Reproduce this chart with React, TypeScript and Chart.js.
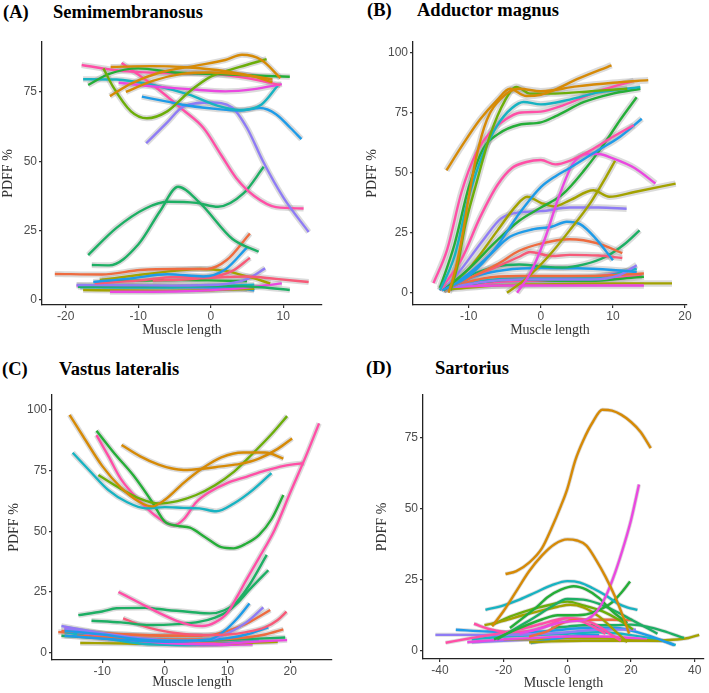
import React, { useEffect, useRef } from 'react';
import { Chart, registerables } from 'chart.js';

Chart.register(...registerables);

// ---------- colours of the participant groups ----------
const PALETTE: Record<string, string> = {
  orange: '#D68A06',
  red: '#EE6B3F',
  olive: '#A3A200',
  lgreen: '#6CAE0A',
  green: '#25AE38',
  sgreen: '#1DAF64',
  teal: '#17B3C2',
  blue: '#1E9BE8',
  purple: '#8F7CF5',
  magenta: '#EA48E0',
  pink: '#FF4FA6',
  rose: '#F75A78',
};

type Series = [string, number[], number[]];

// ---------- (A) Semimembranosus ----------
const semiXTicks = [-20, -10, 0, 10];
const semiYTicks = [0, 25, 50, 75];
const semiSeries: Series[] = [
  ['orange', [-13.8, -8, -3, 2, 6, 8.5], [84, 84.3, 83.8, 82.5, 80.5, 78.5]],
  ['orange', [-13.9, -11, -7, -2, 2, 4.3, 7, 9.6], [73.5, 78, 82, 84.5, 86.5, 88.4, 86.5, 80]],
  ['orange', [-11.7, -8, -4, 0, 5, 8.5], [75, 79, 81.5, 82, 81, 79.5]],
  ['lgreen', [-14.8, -13.5, -11, -8.8, -6, -3, 0, 4, 7.7], [83.5, 77, 68, 65.5, 68, 75, 80.5, 84, 86.8]],
  ['green', [-16.9, -14, -10, -5, 0, 5, 10.9], [77.5, 81.5, 83.5, 82, 81.5, 81, 80.5]],
  ['pink', [-17.8, -12, -6, 0, 5, 9.6], [84.7, 82.5, 81.8, 81.5, 80, 77.5]],
  ['magenta', [-12.7, -8, -3, 2, 6, 9.8], [78.3, 77, 76, 75.2, 76, 77.8]],
  ['teal', [-17.6, -13, -8, -3, 1, 4, 7, 9.3], [79.6, 79.5, 77.5, 74, 70, 68.5, 70.5, 77.5]],
  ['blue', [-9.5, -6, -3, 1, 4, 6.8, 9, 11, 12.5], [73.3, 71.5, 70, 68.8, 68.3, 69.2, 67, 62, 58]],
  ['purple', [-8.9, -6, -3.8, 0, 2.9, 5, 7.2, 10, 13.5], [56.5, 64, 69.7, 71.2, 69.5, 62, 50, 37, 24.5]],
  ['pink', [-12.3, -8, -3.8, -1, 1.5, 3.5, 6, 9, 12.8], [85.4, 77.5, 68.5, 62, 52, 44, 37.5, 33.5, 33]],
  ['sgreen', [-16.9, -13, -9, -6, -2, 1, 4.5, 7.3], [16.2, 26, 33, 35.4, 35, 33.6, 38.4, 48]],
  ['sgreen', [-16.4, -14, -10, -7, -4.5, -1.5, 3, 6.6], [12.6, 12.5, 20, 32, 40.8, 35, 22, 17.4]],
  ['red', [-21.5, -15, -9.7, -5, -0.5, 2.2, 5.4], [9.4, 9.2, 10.8, 11.2, 11.2, 14.4, 24]],
  ['blue', [-16.2, -11, -6, -1, 2, 5], [6.5, 7.8, 9.3, 8.5, 11, 19]],
  ['rose', [-16, -10, -5, 0, 3, 5.4], [6, 7, 8.3, 8.5, 10.5, 15.2]],
  ['rose', [-8, -3, 2, 5, 9, 13.5], [7, 7.5, 8.3, 8.5, 7.6, 6.5]],
  ['olive', [-15.3, -10, -5, -1.5, 2, 5, 8.2], [7.2, 9, 10.5, 11.2, 10.5, 8.5, 6]],
  ['purple', [-18.5, -12, -5, 1, 5, 7.5], [5.4, 5.3, 5.2, 5.5, 7.5, 11.4]],
  ['sgreen', [-18.3, -12, -5, 2, 7, 10.9], [4.8, 4.9, 5, 5, 4.6, 3.6]],
  ['magenta', [-13.9, -8, -2, 4, 9.8], [3, 3, 3.3, 4.2, 6]],
  ['olive', [-17.6, -12, -6, 0, 6], [3.6, 3.4, 3.3, 3.5, 4]],
  ['green', [-15, -10, -4, 1, 5], [7, 7, 7.2, 7, 6.8]],
  ['teal', [-18, -12, -6, 0, 6], [4.6, 4.5, 4.5, 5, 5.5]],
  ['blue', [-15, -8, -2, 3, 6], [5, 4.8, 4.6, 4.5, 3.5]],
  ['magenta', [-18.5, -12, -6, 0, 5], [5.2, 5, 4.8, 4.5, 4]],
];

// ---------- (B) Adductor magnus ----------
const addXTicks = [-10, 0, 10, 20];
const addYTicks = [0, 25, 50, 75, 100];
const addSeries: Series[] = [
  ['orange', [-13.1, -11, -8.5, -6, -4.3, -2, 0, 1.5, 5, 9.8], [51, 61, 72, 80.5, 85, 82, 82.5, 84, 89, 94.8]],
  ['orange', [-12.8, -12, -11, -10, -9, -7.5, -5.5, -3, 0, 5, 10, 14.9], [0, 8, 22, 40, 56, 72, 81, 85, 84, 86, 87.5, 88.6]],
  ['lgreen', [-12.5, -11.5, -10.5, -9, -7, -5, -3.4, -1.5, 2, 7, 12], [1, 12, 28, 45, 66, 80, 85.8, 83, 83, 84, 85]],
  ['teal', [-14, -12, -10, -8, -6, -4, -2.4, 0, 4, 8, 13.8], [1, 15, 40, 58, 70, 77, 79.5, 78.5, 80.5, 83.5, 85.7]],
  ['pink', [-14.9, -13, -11, -9, -7, -5, -3, 0, 3, 8, 12.9], [4, 18, 42, 58, 67, 72, 75, 75.5, 78, 84, 88.3]],
  ['green', [-14, -12, -10, -8, -6, -3, 0, 2, 6, 10, 13.8], [2, 20, 44, 60, 66, 70, 71, 73.5, 79.5, 83, 85]],
  ['pink', [-14, -11, -8.5, -6, -4, -2, 0, 2, 4, 7, 10, 12.9], [1, 14, 31, 45, 52, 54.5, 55.3, 53.5, 55, 59.5, 65, 69.8]],
  ['blue', [-13.7, -10, -6.2, -3, 0, 2, 4, 8, 11, 14], [1, 7, 19, 33, 44, 48.5, 52, 59.5, 65, 72.5]],
  ['magenta', [-3.3, -1.5, 0.5, 2.5, 4.5, 6.5, 8, 10, 13, 15.9], [0, 8, 22, 40, 54, 57.8, 57.8, 56, 52, 45.5]],
  ['green', [-13.5, -10, -6, -3, 0, 3, 6, 9, 11, 13.3], [1, 10, 22, 30, 35.5, 41, 51, 63, 72, 81.5]],
  ['olive', [-13.5, -10, -6, -3.5, -1.9, 0, 1.8, 4, 7.3, 9.5, 13, 18.7], [1, 10, 26, 36, 40, 37.5, 36, 38.5, 42.7, 40, 42, 45.5]],
  ['olive', [-4.7, -2, 1, 4, 7, 9, 10.3], [0, 6, 15, 26, 38, 48, 55]],
  ['purple', [-13.5, -11, -8, -5.5, -3, 0, 4, 8, 11.9], [1, 10, 22, 31, 33.5, 34, 35.5, 35.5, 35]],
  ['blue', [-13.5, -10, -7, -4.3, -1, 1.5, 3.6, 5.5, 7.5, 10], [1, 8, 16, 23.3, 26.5, 27.5, 29.6, 28.5, 23, 13.6]],
  ['red', [-13.5, -10, -6, -3, 0, 4, 8, 11.3], [1, 6, 12, 17.5, 20.5, 22.3, 20.5, 16.5]],
  ['rose', [-13.5, -10, -6, -3, -1.5, 1.5, 4, 8, 11.3], [1, 6, 11, 15, 17, 15.3, 15.8, 15.5, 14.5]],
  ['sgreen', [-13.5, -10, -6, -3, 0, 3, 6, 9, 11.5, 13.7], [1, 7, 11, 11.8, 11, 10.5, 11.8, 15, 20, 26]],
  ['blue', [-13, -9, -5, 0, 5, 10, 13.3], [1.5, 7, 9.5, 10.3, 10.2, 9.5, 8.7]],
  ['purple', [-13, -8, -3, 2, 7, 11, 13.3], [2, 4.5, 5.5, 5.5, 5.5, 7.5, 11.5]],
  ['magenta', [-12, -6, 0, 6, 14.3], [2.5, 3, 3, 3, 3]],
  ['olive', [-12.5, -6, 0, 6, 12, 18.2], [1.5, 3, 3.5, 3.8, 3.9, 3.9]],
  ['green', [-13, -8, -3, 2, 7, 11, 14.3], [1.5, 4.5, 5.5, 5, 5, 5.8, 6.7]],
  ['red', [-13, -8, -3, 2, 7, 11, 14.3], [2, 6, 7, 7, 7, 7.5, 8]],
  ['teal', [-13, -8, -3, 2, 7, 13.3], [2, 5, 6, 6, 6.2, 10]],
  ['pink', [-14, -8, -3, 2, 7, 14], [2, 4, 5, 5, 5.5, 7]],
  ['magenta', [-13, -8, -3, 2, 7, 12], [2, 4, 5.5, 6, 6.5, 9]],
];

// ---------- (C) Vastus lateralis ----------
const vastXTicks = [-10, 0, 10, 20];
const vastYTicks = [0, 25, 50, 75, 100];
const vastSeries: Series[] = [
  ['orange', [-15.2, -13, -10, -7, -4, -2, 0, 3, 6, 9, 12.5, 16, 18.9], [98, 89, 77, 68, 62, 60.3, 63, 70, 76, 80.5, 82.5, 82.5, 80]],
  ['orange', [-6.9, -4, -1, 1, 3, 6, 9, 12, 15, 18, 20.3], [85.6, 81, 77.5, 76, 75.3, 75.8, 76.8, 77.8, 80, 84, 88.3]],
  ['teal', [-14.7, -12, -9, -6, -3, 0, 3, 5.5, 8.2, 11, 14, 17], [82.4, 75, 67, 62, 59.5, 60, 59.7, 59.5, 58.3, 61.5, 67, 74]],
  ['lgreen', [-10.6, -7, -4, -1, 2, 5, 8, 11, 14, 17, 19.5], [73.2, 67.5, 63.5, 61.5, 62.5, 65, 69, 74.5, 82, 90, 97.5]],
  ['green', [-10.9, -8, -5, -2, 0, 2, 4, 6.5, 9, 11, 13, 15, 17, 18.9], [91.5, 82, 73, 62, 54, 52.3, 51.5, 47.5, 43.5, 43, 45, 48.5, 55, 65]],
  ['pink', [-10.9, -9, -7, -4, -1, 1.5, 3, 5, 7, 10, 13, 16, 19, 22.2], [89.7, 81, 71.5, 62.5, 55.5, 52.5, 55, 62, 66, 70, 72.5, 75, 77, 78.2]],
  ['pink', [-7.4, -4, -1, 2, 4, 6, 8, 10, 11.5, 13, 15, 17.5, 20, 22.5, 24.6], [25, 20.5, 16.5, 13, 11.5, 11, 12.5, 16.5, 23, 30, 39, 50.6, 66, 81, 94.5]],
  ['sgreen', [-13.8, -10, -7.7, -3, 0.3, 4, 7.2, 9.5, 11.5, 13.5, 16.25], [15.5, 17, 18.3, 18.5, 17.6, 16.8, 16.2, 17.5, 21, 28, 40.3]],
  ['sgreen', [-11.7, -7, -2.4, 2, 5.6, 8, 10, 11.5, 13.5, 16.5], [13.2, 12.5, 11.4, 11.8, 12.8, 14.5, 17, 20.3, 26, 34]],
  ['rose', [-6.65, -4, -1, 3, 7, 10, 13, 16, 18, 19.4], [14.2, 11.5, 9.3, 7.7, 7.3, 7.5, 8.5, 10.5, 13.5, 16.9]],
  ['blue', [-16, -10, -4, 2, 7.2, 9.5, 11.5, 13.5], [9, 7.5, 5.5, 5, 5.5, 9, 14, 20.3]],
  ['purple', [-16, -10, -4, 2, 7, 10, 13, 15.7], [10, 8, 6, 5, 5.5, 8, 12.5, 18.7]],
  ['red', [-16.5, -10, -4, 2, 7, 10, 13, 16.8], [9, 8, 7.3, 7, 7.2, 9, 12, 17.6]],
  ['blue', [-16, -8, 0, 6, 10, 13, 16.5], [7, 5.5, 4.5, 5, 6, 7.5, 10.5]],
  ['red', [-14, -6, 2, 8, 12, 16, 18.9], [7, 6, 5.5, 5.5, 6, 7.5, 9.6]],
  ['sgreen', [-16.5, -10, -3, 5, 12, 19.2], [7, 6, 5.5, 5, 5.5, 6.3]],
  ['magenta', [-15, -8, 0, 8, 14, 19.5], [9, 6, 4, 3.5, 4.5, 5.2]],
  ['teal', [-16, -10, -4, 2, 8, 15], [8.5, 6, 3.8, 3.2, 3.5, 5]],
  ['olive', [-13.5, -6, 0, 6, 12, 18], [4, 3.8, 3.6, 3.6, 4, 4.5]],
  ['magenta', [-16, -10, -4, 2, 8, 14], [10, 7.5, 5, 3.5, 3.2, 3.5]],
  ['pink', [-15, -9, -3, 3, 9, 14], [9.5, 7, 5, 4, 4, 5]],
  ['purple', [-16.5, -10, -4, 2, 8], [11, 8, 5.5, 4.5, 4.5]],
  ['red', [-17, -12, -6, 0, 6], [8.5, 8, 7.5, 7, 7]],
];

// ---------- (D) Sartorius ----------
const sartXTicks = [-40, -20, 0, 20, 40];
const sartYTicks = [0, 25, 50, 75];
const sartSeries: Series[] = [
  ['orange', [-19.4, -16, -12, -8, -5, -2, 0, 2.5, 5, 8, 11, 14, 17, 20, 23, 26.2], [27, 28, 31, 36, 43, 51, 57, 67, 74, 80.5, 84.8, 84.5, 83, 80.5, 77, 71.3]],
  ['orange', [-23.6, -20, -16, -12, -8, -4, 0, 3, 6, 9, 12, 15, 17.5, 19.4], [8.6, 14, 21, 28, 33.5, 37.5, 39.2, 38.8, 37, 32, 26, 19, 12, 6]],
  ['magenta', [-15, -8, -2, 3, 6, 9, 12, 15, 18, 20, 22.5], [6, 8, 10, 10.5, 11, 13.5, 19, 27.5, 38, 46, 58.5]],
  ['teal', [-25.7, -20, -15, -10, -5, 0, 4, 8, 12, 16, 19, 22], [14.4, 16, 18, 20.5, 23, 24.5, 24, 22, 19.5, 16.5, 15.2, 14.4]],
  ['green', [-23, -15, -8, -3, 2, 6, 10, 14, 17, 19.7], [4, 8, 11, 12.5, 12.5, 12.8, 14.4, 17, 20.5, 24.4]],
  ['green', [-18, -14, -10, -6, -2, 2, 6, 10, 14, 18.8], [8, 11.5, 15, 19, 21.5, 22.7, 21.5, 18.5, 14, 9.7]],
  ['sgreen', [-22, -16, -10, -5, 0, 5, 10, 15, 20, 25, 28.3], [4, 8, 12, 15.5, 18.2, 18, 16.5, 14, 11, 8, 6]],
  ['olive', [-26, -20, -14, -8, -3, 1, 5, 10, 15, 18.8], [9, 10.5, 12.5, 14.2, 15.5, 16.2, 15.3, 12, 7, 3]],
  ['lgreen', [-23.7, -18, -11.7, -6, 0, 5, 11.3, 16, 20.6], [9, 12, 14.4, 16, 17.3, 16, 13.8, 11, 7.5]],
  ['red', [-12, -6, -2, 2, 8, 14, 20.4], [5, 7, 9.5, 10.8, 10.9, 10.9, 10.8]],
  ['pink', [-29.3, -24, -18, -12, -6, 0, 5, 10, 14, 16.8], [9.5, 7.5, 6.5, 7, 9, 11.5, 11, 8.5, 5.5, 3.5]],
  ['pink', [-38.2, -30, -22, -15, -8, -3, 0, 4, 8, 12], [2.8, 4.5, 6, 7.5, 9.5, 11, 11.5, 10.5, 8.5, 6]],
  ['purple', [-41.4, -30, -20, -10, 0, 10, 21.5], [5.6, 5.6, 5.5, 5.8, 6.5, 7.5, 7.4]],
  ['blue', [-35, -25, -15, -5, 5, 15, 25, 33.5], [7.4, 6.8, 6.5, 7, 8, 8, 5.5, 2]],
  ['sgreen', [-5, 0, 5, 10, 15, 20, 25, 30, 36.6], [8, 8.5, 9, 9, 9, 9.2, 8.5, 7, 4.5]],
  ['olive', [-12, -5, 5, 15, 25, 32, 38, 41.4], [3, 3.3, 3.5, 3.5, 3.5, 3.8, 4.5, 5.6]],
  ['magenta', [-31.4, -20, -10, 0, 10, 20, 25], [3, 4, 4.5, 5, 5, 4.5, 4]],
  ['blue', [-11.5, -5, 0, 5, 10], [2.7, 4, 5, 5.5, 5.5]],
  ['teal', [-30, -20, -10, 0, 10, 20, 30, 34], [4, 5, 5.5, 6, 6.5, 5.5, 3.5, 2]],
  ['olive', [-20, -10, 0, 10, 20, 30], [4, 4, 4.5, 4.5, 4, 3.5]],
  ['purple', [-30, -20, -10, 0, 10, 20], [3, 3.5, 4, 4.5, 4.5, 4]],
];

// ---------- layout ----------
type Layout = {
  left: number; top: number; w: number; h: number;
  yw: number; xh: number; padTop: number; padRight: number;
  yTitlePad: number; xTitlePad: number; halo: number;
  xMin: number; xMax: number; yMin: number; yMax: number;
};

const TICK_FONT = { family: '"Liberation Sans", Arial, sans-serif', size: 12 };
const TITLE_FONT = { family: '"Liberation Serif", "Times New Roman", serif', size: 14 };

function Panel({ series, xTicks, yTicks, L }: { series: Series[]; xTicks: number[]; yTicks: number[]; L: Layout }) {
  const ref = useRef<HTMLCanvasElement>(null);
  useEffect(() => {
    if (!ref.current) return;
    const toPts = (xs: number[], ys: number[]) => xs.map((x, i) => ({ x, y: ys[i] }));
    const lines = series.map(([k, xs, ys]) => ({
      data: toPts(xs, ys),
      borderColor: PALETTE[k],
      borderWidth: 2.4,
      order: 0,
      fill: false,
      pointRadius: 0,
      cubicInterpolationMode: 'monotone' as const,
    }));
    const halos = series.map(([, xs, ys]) => ({
      data: toPts(xs, ys),
      borderColor: 'rgba(150,150,150,0.34)',
      borderWidth: L.halo,
      order: 1,
      fill: false,
      pointRadius: 0,
      cubicInterpolationMode: 'monotone' as const,
    }));
    const axisCommon = {
      type: 'linear' as const,
      bounds: 'data' as const,
      grid: { drawOnChartArea: false, drawTicks: true, tickLength: 3, color: '#333333', lineWidth: 1.2 },
      border: { display: true, color: '#222222', width: 1.3 },
    };
    const chart = new Chart(ref.current, {
      type: 'line',
      data: { datasets: [...lines, ...halos] as any },
      options: {
        animation: false,
        responsive: false,
        maintainAspectRatio: false,
        events: [],
        layout: { padding: { left: 0, top: L.padTop, right: L.padRight, bottom: 0 } },
        plugins: { legend: { display: false }, tooltip: { enabled: false }, title: { display: false } },
        elements: { point: { radius: 0 } },
        scales: {
          x: {
            ...axisCommon,
            min: L.xMin,
            max: L.xMax,
            afterBuildTicks: (s: any) => { s.ticks = xTicks.map((v) => ({ value: v })); },
            afterFit: (s: any) => { s.height = L.xh; },
            ticks: { color: '#4D4D4D', font: TICK_FONT, padding: 1, maxRotation: 0, autoSkip: false },
            title: { display: true, text: 'Muscle length', color: '#333333', font: TITLE_FONT, padding: { top: 0, bottom: L.xTitlePad } },
          },
          y: {
            ...axisCommon,
            min: L.yMin,
            max: L.yMax,
            afterBuildTicks: (s: any) => { s.ticks = yTicks.map((v) => ({ value: v })); },
            afterFit: (s: any) => { s.width = L.yw; },
            ticks: { color: '#4D4D4D', font: TICK_FONT, padding: 2, autoSkip: false },
            title: { display: true, text: 'PDFF %', color: '#333333', font: TITLE_FONT, padding: { top: L.yTitlePad, bottom: 0 } },
          },
        },
      } as any,
    });
    return () => chart.destroy();
  }, []);
  return (
    <canvas
      ref={ref}
      width={L.w}
      height={L.h}
      style={{ position: 'absolute', left: L.left, top: L.top, width: L.w, height: L.h }}
    />
  );
}

const layoutA: Layout = { left: 0, top: 30, w: 345, h: 310, yw: 42, xh: 35, padTop: 12, padRight: 23, yTitlePad: 0, xTitlePad: 1, halo: 6, xMin: -23.27, xMax: 15.34, yMin: -1.8, yMax: 93 };
const layoutB: Layout = { left: 354, top: 30, w: 355, h: 310, yw: 59, xh: 35, padTop: 12, padRight: 22, yTitlePad: 10, xTitlePad: 1, halo: 6.5, xMin: -17.74, xMax: 20.28, yMin: -5.1, yMax: 104.5 };
const layoutC: Layout = { left: 0, top: 370, w: 345, h: 323, yw: 52, xh: 33, padTop: 25, padRight: 13, yTitlePad: 6, xTitlePad: 2, halo: 5.5, xMin: -18, xMax: 26.66, yMin: -3, yMax: 106.2 };
const layoutD: Layout = { left: 354, top: 370, w: 355, h: 323, yw: 69, xh: 34, padTop: 25, padRight: 5, yTitlePad: 20, xTitlePad: 1, halo: 4, xMin: -45.3, xMax: 42.9, yMin: -2.9, yMax: 90 };

const headStyle: React.CSSProperties = {
  position: 'absolute',
  fontFamily: '"Liberation Serif", "Times New Roman", serif',
  fontWeight: 'bold',
  fontSize: 18.5,
  lineHeight: '20px',
  color: '#000',
  whiteSpace: 'nowrap',
};

export default function App() {
  return (
    <div style={{ position: 'absolute', left: 0, top: 0, width: 709, height: 693, background: '#fff', overflow: 'hidden' }}>
      <div style={{ ...headStyle, left: 3, top: 2 }}>(A)</div>
      <div style={{ ...headStyle, left: 53, top: 2 }}>Semimembranosus</div>
      <div style={{ ...headStyle, left: 367, top: 0 }}>(B)</div>
      <div style={{ ...headStyle, left: 417, top: 0 }}>Adductor magnus</div>
      <div style={{ ...headStyle, left: 2, top: 359 }}>(C)</div>
      <div style={{ ...headStyle, left: 59, top: 359 }}>Vastus lateralis</div>
      <div style={{ ...headStyle, left: 366, top: 358 }}>(D)</div>
      <div style={{ ...headStyle, left: 435, top: 358 }}>Sartorius</div>
      <Panel series={semiSeries} xTicks={semiXTicks} yTicks={semiYTicks} L={layoutA} />
      <Panel series={addSeries} xTicks={addXTicks} yTicks={addYTicks} L={layoutB} />
      <Panel series={vastSeries} xTicks={vastXTicks} yTicks={vastYTicks} L={layoutC} />
      <Panel series={sartSeries} xTicks={sartXTicks} yTicks={sartYTicks} L={layoutD} />
    </div>
  );
}
